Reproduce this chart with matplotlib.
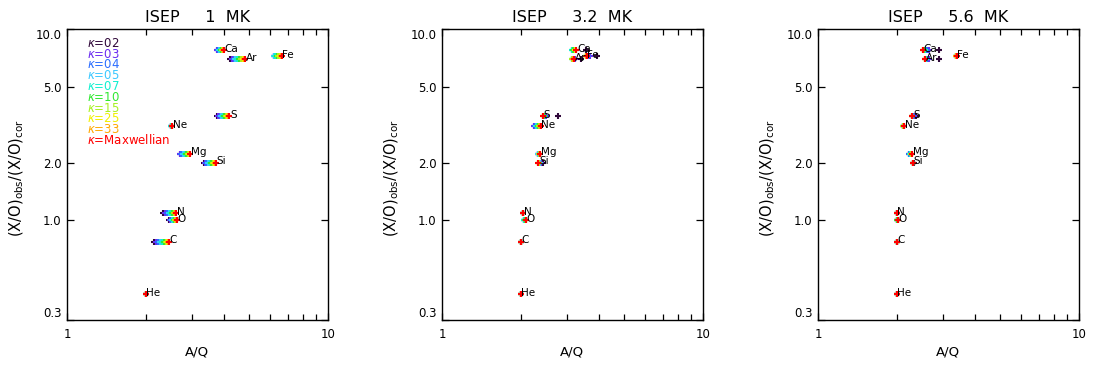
import numpy as np
import matplotlib.pyplot as plt
from matplotlib.ticker import FixedLocator, NullFormatter, NullLocator

# Elements and (X/O)obs/(X/O)cor (same for every temperature)
elements = ['He', 'C', 'N', 'O', 'Ne', 'Mg', 'Si', 'S', 'Ar', 'Ca', 'Fe']
ratio = [0.41, 0.77, 1.085, 1.0, 3.11, 2.23, 2.0, 3.5, 6.94, 7.76, 7.22]

kappas = ['02', '03', '04', '05', '07', '10', '15', '25', '33', 'Maxwellian']
kappa_colors = ['#30083a', '#6a2cf0', '#2a6cff', '#3cc8ff', '#10f0d0',
                '#30e830', '#a8f020', '#f0f000', '#ffa800', '#ff0000']

temps = ['1', '3.2', '5.6']

# A/Q per element (rows) and kappa (columns)
aq_1mk = [
    [2.00, 2.00, 2.00, 2.00, 2.00, 2.00, 2.00, 2.00, 2.00, 2.00],
    [2.16, 2.20, 2.24, 2.28, 2.32, 2.36, 2.39, 2.42, 2.43, 2.45],
    [2.33, 2.37, 2.41, 2.45, 2.49, 2.53, 2.56, 2.59, 2.60, 2.62],
    [2.47, 2.49, 2.51, 2.53, 2.55, 2.57, 2.59, 2.61, 2.62, 2.63],
    [2.50, 2.50, 2.51, 2.51, 2.51, 2.52, 2.52, 2.52, 2.52, 2.53],
    [2.70, 2.71, 2.74, 2.78, 2.82, 2.86, 2.90, 2.93, 2.95, 2.97],
    [3.36, 3.38, 3.42, 3.47, 3.52, 3.57, 3.62, 3.66, 3.68, 3.71],
    [3.75, 3.79, 3.84, 3.89, 3.95, 4.01, 4.07, 4.12, 4.15, 4.19],
    [4.22, 4.28, 4.35, 4.42, 4.50, 4.58, 4.66, 4.73, 4.77, 4.81],
    [3.75, 3.77, 3.80, 3.83, 3.86, 3.89, 3.92, 3.95, 3.97, 3.99],
    [6.20, 6.20, 6.21, 6.23, 6.28, 6.36, 6.45, 6.54, 6.59, 6.64],
]
aq_32mk = [
    [2.00, 2.00, 2.00, 2.00, 2.00, 2.00, 2.00, 2.00, 2.00, 2.00],
    [2.00, 2.00, 2.00, 2.00, 2.00, 2.00, 2.00, 2.00, 2.00, 2.00],
    [2.04, 2.04, 2.04, 2.04, 2.04, 2.04, 2.04, 2.04, 2.04, 2.04],
    [2.06, 2.06, 2.06, 2.07, 2.07, 2.08, 2.09, 2.09, 2.10, 2.10],
    [2.26, 2.26, 2.27, 2.29, 2.31, 2.33, 2.35, 2.37, 2.38, 2.39],
    [2.34, 2.34, 2.34, 2.34, 2.35, 2.35, 2.36, 2.37, 2.37, 2.38],
    [2.43, 2.40, 2.38, 2.37, 2.36, 2.35, 2.35, 2.34, 2.34, 2.34],
    [2.78, 2.50, 2.48, 2.47, 2.46, 2.45, 2.44, 2.44, 2.43, 2.43],
    [3.40, 3.24, 3.18, 3.15, 3.14, 3.14, 3.15, 3.17, 3.18, 3.20],
    [3.55, 3.20, 3.14, 3.14, 3.16, 3.19, 3.22, 3.24, 3.25, 3.27],
    [3.91, 3.70, 3.62, 3.58, 3.56, 3.55, 3.55, 3.56, 3.57, 3.58],
]
aq_56mk = [
    [2.00, 2.00, 2.00, 2.00, 2.00, 2.00, 2.00, 2.00, 2.00, 2.00],
    [2.00, 2.00, 2.00, 2.00, 2.00, 2.00, 2.00, 2.00, 2.00, 2.00],
    [2.00, 2.00, 2.00, 2.00, 2.00, 2.00, 2.00, 2.00, 2.00, 2.00],
    [2.01, 2.01, 2.01, 2.01, 2.01, 2.01, 2.02, 2.02, 2.02, 2.02],
    [2.13, 2.12, 2.11, 2.11, 2.11, 2.12, 2.12, 2.13, 2.13, 2.14],
    [2.24, 2.24, 2.24, 2.25, 2.26, 2.27, 2.28, 2.29, 2.29, 2.30],
    [2.33, 2.32, 2.31, 2.31, 2.31, 2.31, 2.31, 2.31, 2.31, 2.31],
    [2.37, 2.33, 2.31, 2.30, 2.30, 2.30, 2.30, 2.30, 2.30, 2.30],
    [2.92, 2.66, 2.62, 2.60, 2.59, 2.58, 2.58, 2.57, 2.57, 2.57],
    [2.92, 2.66, 2.61, 2.58, 2.56, 2.54, 2.53, 2.53, 2.52, 2.52],
    [3.40, 3.38, 3.37, 3.37, 3.37, 3.38, 3.38, 3.39, 3.39, 3.40],
]

yticks = [0.3, 1.0, 2.0, 5.0, 10.0]
ytick_labels = ['0.3', '1.0', '2.0', '5.0', '10.0']

W, H = 1093, 365
fig = plt.figure(figsize=(W / 100, H / 100), dpi=100)

lefts = [67, 442, 818]
for p, (aq, T) in enumerate(zip([aq_1mk, aq_32mk, aq_56mk], temps)):
    ax = fig.add_axes([lefts[p] / W, (H - 320) / H, 261 / W, 291 / H])
    aq = np.array(aq)
    for k in range(len(kappas)):
        ax.plot(aq[:, k], ratio, '+', color=kappa_colors[k], ms=5, mew=1.5)
    for i, el in enumerate(elements):
        ax.annotate(el, (aq[i, -1], ratio[i]), xytext=(0.5, -1.2),
                    textcoords='offset points', ha='left', va='baseline',
                    fontsize=7.5)

    ax.set_xscale('log')
    ax.set_yscale('log')
    ax.set_xlim(1, 10)
    ax.set_ylim(0.3, 10.0)
    ax.set_xticks([1, 10])
    ax.set_xticklabels(['1', '10'])
    ax.xaxis.set_minor_locator(FixedLocator([2, 3, 4, 5, 6, 7, 8, 9]))
    ax.xaxis.set_minor_formatter(NullFormatter())
    ax.set_yticks(yticks)
    ax.set_yticklabels(ytick_labels)
    ax.yaxis.set_minor_locator(NullLocator())
    lbls = ax.get_yticklabels()
    lbls[0].set_va('bottom')
    lbls[-1].set_va('top')
    ax.tick_params(which='both', direction='in', top=True, right=True,
                   labelsize=8.5, width=0.9)
    ax.tick_params(axis='x', which='major', length=5, pad=6)
    ax.tick_params(axis='x', which='minor', length=4)
    ax.tick_params(axis='y', which='major', length=5, pad=4)
    for s in ax.spines.values():
        s.set_linewidth(1.0)

    ax.set_title(f'ISEP     {T}  MK', fontsize=11.5, pad=5)
    ax.text(0.497, -0.11, 'A/Q', transform=ax.transAxes, ha='center',
            va='center', fontsize=9.5)
    ax.text(-0.1916, 0.488, r'(X/O)$_{\rm obs}$/(X/O)$_{\rm cor}$',
            transform=ax.transAxes, ha='center', va='center', rotation=90,
            fontsize=10.5)

    if p == 0:
        for k, (kp, c) in enumerate(zip(kappas, kappa_colors)):
            ax.text(0.077, 0.951 - k * 0.0371, r'$\kappa$=' + kp,
                    transform=ax.transAxes, color=c, fontsize=8.5,
                    ha='left', va='center')

fig.savefig('out.png', dpi=100)
